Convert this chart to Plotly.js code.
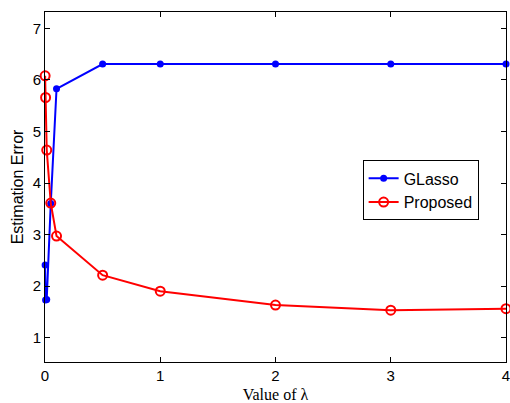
<!DOCTYPE html>
<html>
<head>
<meta charset="utf-8">
<script src="https://cdn.plot.ly/plotly-3.0.1.min.js"></script>
<style>html,body{margin:0;padding:0;background:#fff;}#chart{width:510px;height:403px;}</style>
</head>
<body>
<div id="chart"></div>
<script>
const lambdaVals = [0.001, 0.005, 0.015, 0.05, 0.1, 0.5, 1, 2, 3, 4];
const glassoErr = [2.41, 1.73, 1.74, 3.60, 5.83, 6.31, 6.31, 6.31, 6.31, 6.31];
const proposedErr = [6.08, 5.66, 4.64, 3.61, 2.97, 2.21, 1.90, 1.63, 1.53, 1.56];
const xTicks = [0, 1, 2, 3, 4];
const yTicks = [1, 2, 3, 4, 5, 6, 7];

const traces = [
  {x: lambdaVals, y: glassoErr, name: 'GLasso', type: 'scatter', mode: 'lines+markers', cliponaxis: false,
   line: {color: '#0000ff', width: 2}, marker: {color: '#0000ff', size: 7, symbol: 'circle'}},
  {x: lambdaVals, y: proposedErr, name: 'Proposed', type: 'scatter', mode: 'lines+markers', cliponaxis: false,
   line: {color: '#ff0000', width: 2}, marker: {color: '#ff0000', size: 9, symbol: 'circle-open', line: {width: 2, color: '#ff0000'}}}
];

const axisCommon = {
  showline: true, linecolor: '#000', linewidth: 1, mirror: 'ticks',
  ticks: 'inside', ticklen: 5, tickcolor: '#000', showgrid: false, zeroline: false,
  ticklabeloverflow: 'allow',
  tickfont: {family: 'Liberation Sans, Arial, sans-serif', size: 15, color: '#000'}
};

const layout = {
  width: 510, height: 403,
  margin: {l: 45, r: 4, t: 12, b: 41},
  paper_bgcolor: '#fff', plot_bgcolor: '#fff',
  showlegend: true,
  xaxis: Object.assign({}, axisCommon, {
    range: [0, 4], tickvals: xTicks, ticktext: xTicks.map(String),
    title: {text: 'Value of λ', font: {family: 'Liberation Serif, Times New Roman, serif', size: 16, color: '#000'}, standoff: 5}
  }),
  yaxis: Object.assign({}, axisCommon, {
    range: [0.525, 7.32], tickvals: yTicks, ticktext: yTicks.map(String),
    title: {text: 'Estimation Error', font: {family: 'Liberation Sans, Arial, sans-serif', size: 16, color: '#000'}, standoff: 5}
  }),
  legend: {
    x: 0.689, y: 0.576, xanchor: 'left', yanchor: 'top',
    bgcolor: '#fff', bordercolor: '#000', borderwidth: 1,
    font: {family: 'Liberation Sans, Arial, sans-serif', size: 16, color: '#000'},
    tracegroupgap: 0
  }
};

Plotly.newPlot('chart', traces, layout, {displayModeBar: false, staticPlot: true});
</script>
</body>
</html>
